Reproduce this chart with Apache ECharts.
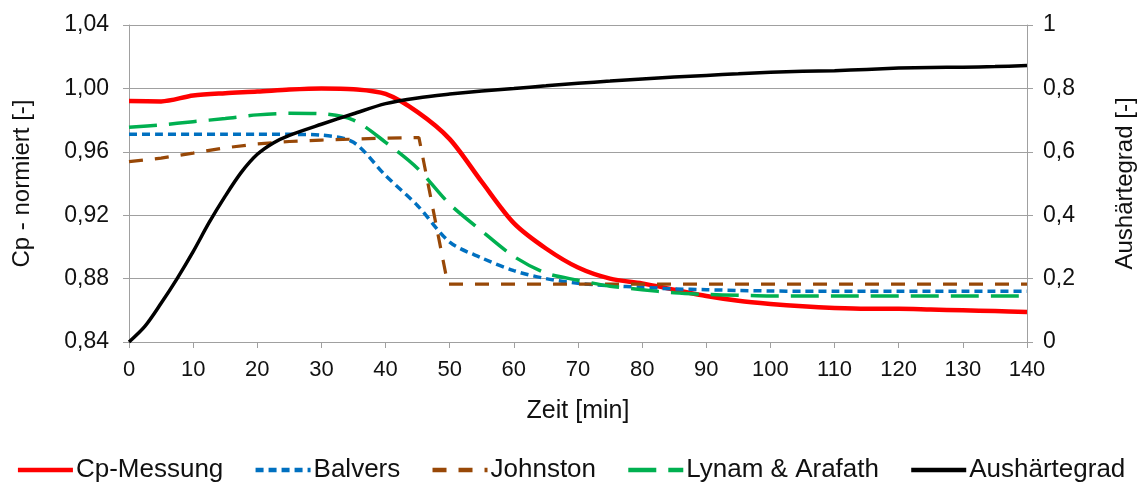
<!DOCTYPE html>
<html>
<head>
<meta charset="utf-8">
<script src="https://cdn.jsdelivr.net/npm/echarts@6/dist/echarts.min.js"></script>
<style>
html,body{margin:0;padding:0;background:#fff;}
#chart{width:1141px;height:483px;}
</style>
</head>
<body>
<div id="chart"></div>
<script>
// Time grid (minutes) for the Cp series
const time = [0,5,10,15,20,25,30,35,40,45,50,55,60,65,70,75,80,85,90,95,100,105,110,115,120,125,130,135,140];
const cpMessung = [0.992,0.9918,0.9955,0.997,0.998,0.9993,1.0,0.9995,0.9965,0.985,0.968,0.941,0.915,0.899,0.887,0.880,0.877,0.873,0.869,0.866,0.864,0.8625,0.8615,0.861,0.861,0.8605,0.860,0.8595,0.859];
const balvers = [0.971,0.971,0.971,0.971,0.971,0.971,0.9705,0.966,0.945,0.926,0.903,0.893,0.885,0.880,0.877,0.8755,0.8745,0.8735,0.873,0.8725,0.8722,0.872,0.872,0.872,0.872,0.872,0.872,0.872,0.872];
const lynamArafath = [0.9755,0.977,0.979,0.981,0.9833,0.9843,0.984,0.980,0.966,0.9495,0.927,0.910,0.894,0.8835,0.879,0.8752,0.873,0.871,0.870,0.8695,0.869,0.869,0.869,0.869,0.869,0.869,0.869,0.869,0.869];
// Johnston has its own time points (sharp drop)
const johnstonTime = [0,5,10,15,20,25,30,35,40,45.2,49.7,60,70,80,90,100,110,120,130,140];
const johnston = [0.9538,0.956,0.9592,0.9625,0.965,0.9665,0.9674,0.968,0.9686,0.969,0.8765,0.8765,0.8765,0.8765,0.8765,0.8765,0.8765,0.8765,0.8765,0.8765];
// Degree of cure (right axis)
const cureTime = [0,2.5,5,7.5,10,12.5,15,17.5,20,22.5,25,30,35,40,45,50,55,60,65,70,75,80,85,90,95,100,105,110,115,120,125,130,135,140];
const aushaertegrad = [0,0.05,0.122,0.2,0.285,0.377,0.46,0.535,0.592,0.628,0.652,0.687,0.72,0.752,0.77,0.782,0.792,0.80,0.808,0.816,0.823,0.83,0.836,0.841,0.846,0.851,0.854,0.856,0.86,0.864,0.866,0.867,0.869,0.872];

const seriesNames = ['Cp-Messung','Balvers','Johnston','Lynam & Arafath','Aushärtegrad'];
const xTitle = 'Zeit [min]';
const yLeftTitle = 'Cp - normiert [-]';
const yRightTitle = 'Aushärtegrad [-]';

const pair = (ts, vs) => ts.map((t, i) => [t, vs[i]]);
const FONT = "'Liberation Sans', Arial, sans-serif";
const GRID = '#a0a0a0';
const TXT = '#111';

const chart = echarts.init(document.getElementById('chart'), null, {renderer: 'canvas'});
chart.setOption({
  animation: false,
  backgroundColor: '#fff',
  textStyle: {fontFamily: FONT},
  grid: {left: 129, right: 114, top: 25, bottom: 141, containLabel: false, outerBoundsMode: 'none'},
  legend: {
    data: seriesNames,
    left: 'center',
    top: 452,
    itemWidth: 55,
    itemHeight: 14,
    itemGap: 30,
    itemStyle: {opacity: 0},
    lineStyle: {width: 4.5},
    textStyle: {fontFamily: FONT, fontSize: 26, color: TXT, padding: [0,0,0,-2]}
  },
  xAxis: {
    type: 'value', min: 0, max: 140, interval: 10,
    name: xTitle, nameLocation: 'middle', nameGap: 57,
    nameTextStyle: {fontFamily: FONT, fontSize: 25, color: TXT},
    axisLine: {show: true, lineStyle: {color: GRID, width: 1}},
    axisTick: {show: true, inside: false, length: 6, lineStyle: {color: GRID}},
    axisLabel: {fontFamily: FONT, fontSize: 22, color: TXT, margin: 17},
    splitLine: {show: false}
  },
  yAxis: [{
    type: 'value', min: 0.84, max: 1.04, interval: 0.04, position: 'left',
    name: yLeftTitle, nameLocation: 'middle', nameGap: 95, nameRotate: 90,
    nameTextStyle: {fontFamily: FONT, fontSize: 24, color: TXT},
    axisLine: {show: true, lineStyle: {color: GRID, width: 1}},
    axisTick: {show: true, inside: false, length: 6, lineStyle: {color: GRID}},
    axisLabel: {fontFamily: FONT, fontSize: 23, color: TXT, margin: 20,
      formatter: v => v.toFixed(2).replace('.', ',')},
    splitLine: {show: true, lineStyle: {color: GRID, width: 1}}
  }, {
    type: 'value', min: 0, max: 1, interval: 0.2, position: 'right',
    name: yRightTitle, nameLocation: 'middle', nameGap: 86, nameRotate: 90,
    nameTextStyle: {fontFamily: FONT, fontSize: 24, color: TXT},
    axisLine: {show: true, lineStyle: {color: GRID, width: 1}},
    axisTick: {show: true, inside: false, length: 6, lineStyle: {color: GRID}},
    axisLabel: {fontFamily: FONT, fontSize: 23, color: TXT, margin: 16,
      formatter: v => String(Math.round(v * 10) / 10).replace('.', ',')},
    splitLine: {show: false}
  }],
  series: [{
    name: seriesNames[0], type: 'line', yAxisIndex: 0, symbol: 'none', smooth: 0.3,
    data: pair(time, cpMessung), color: '#ff0000',
    lineStyle: {color: '#ff0000', width: 4.5}
  }, {
    name: seriesNames[1], type: 'line', yAxisIndex: 0, symbol: 'none', smooth: 0.3,
    data: pair(time, balvers), color: '#0070c0',
    lineStyle: {color: '#0070c0', width: 3.5, type: [8, 5]}
  }, {
    name: seriesNames[2], type: 'line', yAxisIndex: 0, symbol: 'none', smooth: false,
    data: pair(johnstonTime, johnston), color: '#984807',
    lineStyle: {color: '#984807', width: 3.2, type: [14, 12]}
  }, {
    name: seriesNames[3], type: 'line', yAxisIndex: 0, symbol: 'none', smooth: 0.3,
    data: pair(time, lynamArafath), color: '#00b050',
    lineStyle: {color: '#00b050', width: 3.5, type: [28, 12]}
  }, {
    name: seriesNames[4], type: 'line', yAxisIndex: 1, symbol: 'none', smooth: 0.3,
    data: pair(cureTime, aushaertegrad), color: '#000000',
    lineStyle: {color: '#000000', width: 3.5}
  }]
});
</script>
</body>
</html>
